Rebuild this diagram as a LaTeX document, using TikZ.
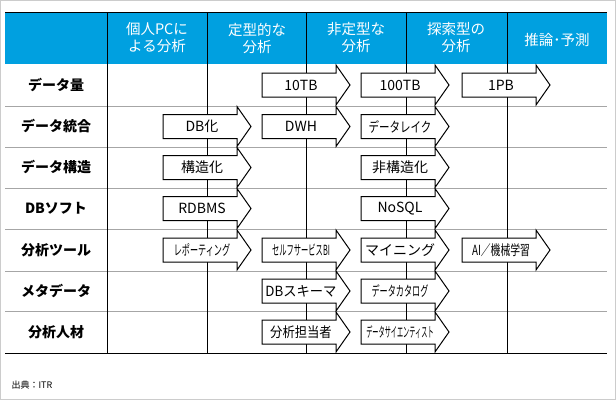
\documentclass[tikz,border=0pt]{standalone}
\usepackage{fontspec}
\setmainfont{Noto Sans CJK JP}
\definecolor{hdr}{HTML}{00A0E0}
\tikzset{
 arrshape/.style={draw=black, line width=1pt, fill=white, line join=miter},
 arrtxt/.style={inner sep=0pt, font=\fontsize{14}{14}\selectfont},
 hd/.style={text=white, font=\fontsize{14.5}{17}\selectfont, align=center},
 rl/.style={font=\bfseries\fontsize{14}{14}\selectfont},
}
\newcommand\myarrow[5][1]{%
 \draw[arrshape] (#3,#4-12) -- ++(74,0) -- ++(0,-8) -- ++(14,20) -- ++(-14,20) -- ++(0,-8) -- ++(-74,0) -- cycle;
 \node[arrtxt] (#2) at (#3+39,#4) {\scalebox{#1}[1]{#5}};}
\begin{document}
\begin{tikzpicture}[x=1pt,y=-1pt]
\useasboundingbox (0,0) rectangle (616,400);
\draw[gray!40] (0.5,0.5) rectangle (615.5,399.5);
\fill[hdr] (5,12) rectangle (607,64);
\draw[black, line width=1.2pt] (5,12.5) -- (607,12.5);
\foreach \y in {106,147,188,229,271,311} \draw[gray!70, line width=1pt] (5,\y) -- (607,\y);
\draw[line width=1pt] (5,353) -- (607,353);
\foreach \x in {107,207,306,406,507} \draw[line width=0.8pt] (\x,12) -- (\x,353);
\node[hd] (h1) at (157,38) {個人PCに\\よる分析};
\node[hd] (h2) at (257,38) {定型的な\\分析};
\node[hd] (h3) at (356,38) {非定型な\\分析};
\node[hd] (h4) at (456,38) {探索型の\\分析};
\node[hd] (h5) at (557,40) {推論･予測};
\node[rl] (r1) at (56,85) {データ量};
\node[rl] (r2) at (56,126.5) {データ統合};
\node[rl] (r3) at (56,167.5) {データ構造};
\node[rl] (r4) at (56,208.5) {DBソフト};
\node[rl] (r5) at (56,250) {分析ツール};
\node[rl] (r6) at (56,291) {メタデータ};
\node[rl] (r7) at (56,332) {分析人材};
\myarrow{a11}{262}{85}{10TB}
\myarrow{a12}{361}{85}{100TB}
\myarrow{a13}{462}{85}{1PB}
\myarrow{a21}{163}{126.5}{DB化}
\myarrow{a22}{262}{126.5}{DWH}
\myarrow[0.75]{a23}{361}{126.5}{データレイク}
\myarrow{a31}{163}{167.5}{構造化}
\myarrow{a32}{361}{167.5}{非構造化}
\myarrow{a41}{163}{208.5}{RDBMS}
\myarrow{a42}{361}{208.5}{NoSQL}
\myarrow[0.58]{a51}{163}{250}{レポーティング}
\myarrow[0.52]{a52}{262}{250}{セルフサービスBI}
\myarrow{a53}{361}{250}{マイニング}
\myarrow[0.7]{a54}{462}{250}{AI／機械学習}
\myarrow[0.95]{a61}{262}{291}{DBスキーマ}
\myarrow[0.58]{a62}{361}{291}{データカタログ}
\myarrow[0.88]{a71}{262}{332}{分析担当者}
\myarrow[0.44]{a72}{361}{332}{データサイエンティスト}
\node[anchor=west, font=\fontsize{9}{9}\selectfont] (src) at (8,385) {出典：ITR};
\end{tikzpicture}
\end{document}
